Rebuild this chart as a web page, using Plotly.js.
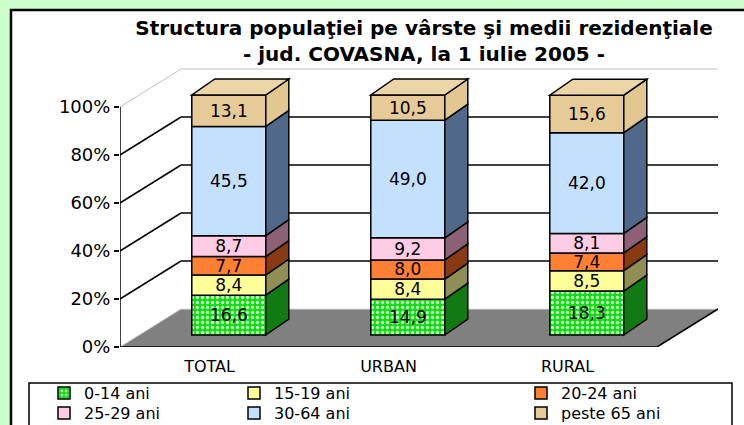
<!DOCTYPE html>
<html>
<head>
<meta charset="utf-8">
<script src="https://cdn.plot.ly/plotly-3.0.1.min.js"></script>
<style>
  html, body { margin: 0; padding: 0; background: #CCFFCC; }
  #chart { width: 744px; height: 425px; }
</style>
</head>
<body>
<div id="chart"></div>
<script>
// data (percent of population)
const categories = ['TOTAL', 'URBAN', 'RURAL'];
const ageGroups = ['0-14 ani', '15-19 ani', '20-24 ani', '25-29 ani', '30-64 ani', 'peste 65 ani'];
const age0to14 = [16.6, 14.9, 18.3];
const age15to19 = [8.4, 8.4, 8.5];
const age20to24 = [7.7, 8.0, 7.4];
const age25to29 = [8.7, 9.2, 8.1];
const age30to64 = [45.5, 49.0, 42.0];
const age65plus = [13.1, 10.5, 15.6];
const yTicks = [0, 20, 40, 60, 80, 100];

const series = [age0to14, age15to19, age20to24, age25to29, age30to64, age65plus];

const FONT = 'DejaVu Sans, sans-serif';

// front colours and darker side colours
const frontColors = ['#12DD12', '#FFFF99', '#FF8033', '#FFCCE6', '#C4E0FF', '#E6CB98'];
const sideColors = ['#127A12', '#8F8F55', '#8A3A12', '#8C6075', '#50698A', '#E2C890'];
const topColor = '#ECD5A6';

// pixel geometry of the 3d box
const W = 744, H = 425;
const PLOT_L = 120, PLOT_R = 718, PLOT_T = 60, PLOT_B = 347;
const DEPTH_PX_X = 61, DEPTH_PX_Y = 38;     // wall depth
const pxX = (PLOT_R - PLOT_L - DEPTH_PX_X) / 3;
const pxY = 2.40;
const YMAX = (PLOT_B - PLOT_T) / pxY;
const DX = DEPTH_PX_X / pxX, DY = DEPTH_PX_Y / pxY;
const FRONT_DX = 19.3 / pxX, LIFT = 12 / pxY;  // bar front face sits a bit inside
const BAR_W = 74 / pxX;
const BDX = 23 / pxX, BDY = 16 / pxY;         // bar depth

const legendCols = [64, 254, 541];
const legendRows = [393, 413];

function fmt(v) { return v.toFixed(1).replace('.', ','); }
function paperX(px) { return (px - PLOT_L) / (PLOT_R - PLOT_L); }
function paperY(py) { return (PLOT_B - py) / (PLOT_B - PLOT_T); }

// cumulative bases
const bases = series.map((vals, k) => categories.map((c, i) => {
  let s = LIFT;
  for (let j = 0; j < k; j++) s += series[j][i];
  return s;
}));

const traces = series.map((vals, k) => {
  const marker = { color: frontColors[k], line: { color: 'black', width: 1.5 } };
  if (k === 0) {
    marker.pattern = { shape: '.', bgcolor: frontColors[0], fgcolor: '#C8FFC8', size: 5, solidity: 0.35 };
  }
  return {
    type: 'bar',
    name: ageGroups[k],
    x: categories.map((c, i) => i + FRONT_DX),
    y: vals,
    base: bases[k],
    width: BAR_W,
    marker: marker,
    text: vals.map(fmt),
    textposition: 'inside',
    insidetextanchor: 'middle',
    textangle: 0,
    textfont: { family: FONT, size: 17, color: 'black' },
    legend: k === 0 ? 'legend' : 'legend' + (k + 1),
    showlegend: true,
    hoverinfo: 'skip'
  };
});

const shapes = [];
// white chart area with black frame
shapes.push({ type: 'rect', xref: 'paper', yref: 'paper', layer: 'below',
  x0: paperX(11), x1: paperX(770), y0: paperY(10), y1: paperY(450),
  fillcolor: 'white', line: { color: 'black', width: 2.5 } });
// legend frame
shapes.push({ type: 'rect', xref: 'paper', yref: 'paper', layer: 'below',
  x0: paperX(29), x1: paperX(732), y0: paperY(383), y1: paperY(450),
  fillcolor: 'white', line: { color: 'black', width: 1.5 } });

const xl = -0.5, xr = categories.length - 0.5;
// floor
shapes.push({ type: 'path', xref: 'x', yref: 'y', layer: 'below',
  path: `M${xl},0 L${xr},0 L${xr + DX},${DY} L${xl + DX},${DY} Z`,
  fillcolor: '#808080', line: { width: 0 } });
// walls gridlines
yTicks.forEach(v => {
  const col = v === 0 ? '#C8C8C8' : (v === 100 ? '#C0C0C0' : 'black');
  const w = (v === 0 || v === 100) ? 1 : 1.5;
  if (v > 0) {
    shapes.push({ type: 'line', xref: 'x', yref: 'y', layer: 'below',
      x0: xl + DX, x1: xr + DX, y0: v + DY, y1: v + DY, line: { color: col, width: w } });
  } else {
    shapes.push({ type: 'line', xref: 'x', yref: 'y', layer: 'below',
      x0: xl + DX, x1: xr + DX, y0: DY, y1: DY, line: { color: '#E0E0E0', width: 1 } });
  }
  shapes.push({ type: 'line', xref: 'x', yref: 'y', layer: 'below',
    x0: xl, x1: xl + DX, y0: v, y1: v + DY, line: { color: col, width: w } });
});
// floor edges and front axes
shapes.push({ type: 'line', xref: 'x', yref: 'y', layer: 'below',
  x0: xr, x1: xr + DX, y0: 0, y1: DY, line: { color: 'black', width: 1.5 } });
shapes.push({ type: 'line', xref: 'x', yref: 'y', layer: 'below',
  x0: xl, x1: xr, y0: 0, y1: 0, line: { color: 'black', width: 1.5 } });
shapes.push({ type: 'line', xref: 'x', yref: 'y', layer: 'below',
  x0: xl, x1: xl, y0: 0, y1: 100, line: { color: 'black', width: 1.5 } });
// category boundary ticks
for (let b = 0; b <= categories.length; b++) {
  shapes.push({ type: 'line', xref: 'x', yref: 'y', ysizemode: 'pixel', yanchor: 0,
    x0: xl + b, x1: xl + b, y0: 0, y1: -6, line: { color: 'black', width: 1.5 } });
}

// side and top faces of the bars
categories.forEach((c, i) => {
  const x0 = i + FRONT_DX - BAR_W / 2, x1 = x0 + BAR_W;
  series.forEach((vals, k) => {
    const b = bases[k][i], t = b + vals[i];
    shapes.push({ type: 'path', xref: 'x', yref: 'y', layer: 'above',
      path: `M${x1},${b} L${x1 + BDX},${b + BDY} L${x1 + BDX},${t + BDY} L${x1},${t} Z`,
      fillcolor: sideColors[k], line: { color: 'black', width: 1.5 } });
  });
  const top = bases[series.length - 1][i] + series[series.length - 1][i];
  shapes.push({ type: 'path', xref: 'x', yref: 'y', layer: 'above',
    path: `M${x0},${top} L${x1},${top} L${x1 + BDX},${top + BDY} L${x0 + BDX},${top + BDY} Z`,
    fillcolor: topColor, line: { color: 'black', width: 1.5 } });
});

const layout = {
  width: W, height: H,
  margin: { l: PLOT_L, r: W - PLOT_R, t: PLOT_T, b: H - PLOT_B, autoexpand: false },
  paper_bgcolor: '#CCFFCC',
  plot_bgcolor: 'rgba(0,0,0,0)',
  barmode: 'overlay',
  showlegend: true,
  title: {
    text: 'Structura populaţiei pe vârste şi medii rezidenţiale<br>- jud. COVASNA, la 1 iulie 2005 -',
    font: { family: FONT, size: 20, color: 'black', weight: 'bold' },
    x: 424 / W, xanchor: 'center', xref: 'container',
    y: 1 - 35 / H, yanchor: 'top', yref: 'container'
  },
  xaxis: {
    range: [xl, xr + DX],
    tickvals: categories.map((c, i) => i),
    ticktext: categories,
    ticks: '', showgrid: false, zeroline: false, showline: false,
    ticklabelstandoff: 8,
    tickfont: { family: FONT, size: 16, color: 'black' },
    fixedrange: true
  },
  yaxis: {
    range: [0, YMAX],
    tickvals: yTicks,
    ticktext: yTicks.map(v => v + '%'),
    ticks: 'outside', ticklen: 5, tickwidth: 1.5, tickcolor: 'black',
    showgrid: false, zeroline: false, showline: false,
    tickfont: { family: FONT, size: 18, color: 'black' },
    fixedrange: true
  },
  uniformtext: { mode: 'show', minsize: 17 },
  shapes: shapes,
  hovermode: false
};

// one small legend per entry so the entries sit in the 3x2 grid
ageGroups.forEach((g, k) => {
  const key = k === 0 ? 'legend' : 'legend' + (k + 1);
  layout[key] = {
    xref: 'container', yref: 'container',
    x: (legendCols[k % 3] - 20) / W, xanchor: 'left',
    y: 1 - legendRows[Math.floor(k / 3)] / H, yanchor: 'middle',
    bgcolor: 'rgba(0,0,0,0)', borderwidth: 0,
    font: { family: FONT, size: 16, color: 'black' },
    itemwidth: 30
  };
});

Plotly.newPlot('chart', traces, layout, { displayModeBar: false, staticPlot: true });
</script>
</body>
</html>
